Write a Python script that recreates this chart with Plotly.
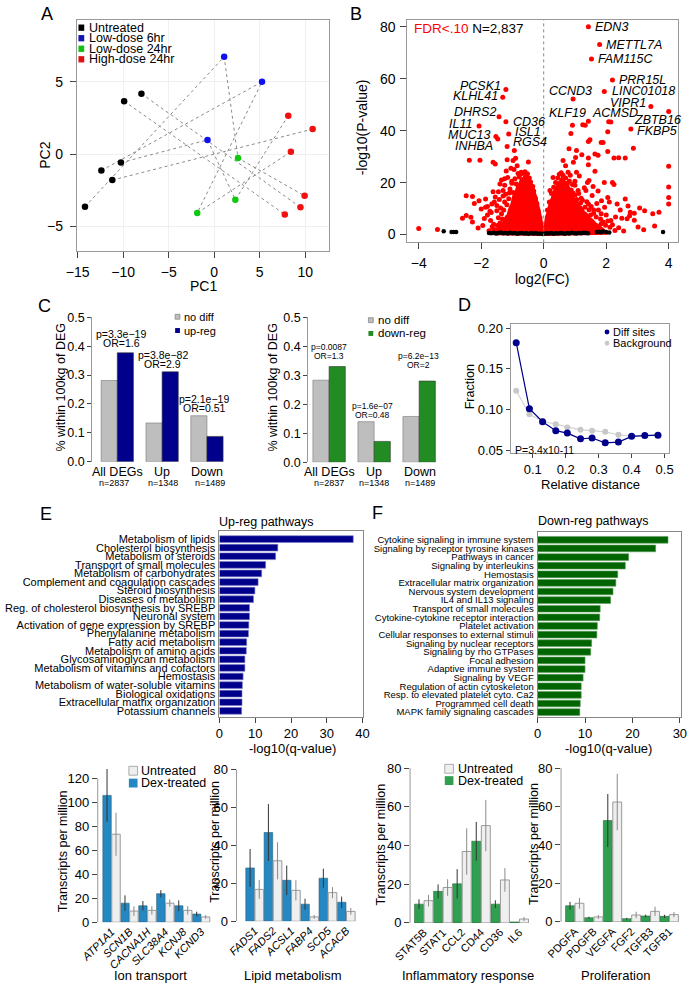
import plotly.graph_objects as go

W, H = 695, 990
FONT = "Liberation Sans, Arial, Helvetica, sans-serif"

def X(p): return p / W
def Y(p): return 1 - p / H
def dom_x(a, b): return [X(a), X(b)]
def dom_y(top, bottom): return [Y(bottom), Y(top)]

# ======================= DATA =======================
# A: PCA
pca_untreated_x = [-14.2, -12.4, -11.2, -10.25, -9.9, -8.0]
pca_untreated_y = [-3.64, -1.14, -1.80, -0.59, 3.66, 4.18]
pca_low6_x = [1.09, 5.25, -0.74]
pca_low6_y = [6.73, 5.0, 0.98]
pca_low24_x = [2.61, 2.32, -1.87]
pca_low24_y = [-0.27, -3.16, -4.07]
pca_high24_x = [8.13, 10.81, 8.42, 9.93, 9.47, 7.75]
pca_high24_y = [2.66, 1.73, 0.16, -2.89, -3.68, -4.18]
pca_groups = ["Untreated", "Low-dose 6hr", "Low-dose 24hr", "High-dose 24hr"]
# donor paths: (group index, sample index)
pca_paths = [
    [(0, 0), (1, 0), (2, 0), (3, 3)],
    [(0, 1), (1, 1), (2, 2), (3, 2)],
    [(0, 3), (1, 2), (2, 1), (3, 0)],
    [(0, 2), (3, 1)],
    [(0, 4), (3, 5)],
    [(0, 5), (3, 4)],
]

# B: volcano
sig_x = [-4.0, -3.4, -2.6, -2.48, -2.33, -2.28, -2.48, -2.28, -2.22, -2.07, -1.86, -1.86, -1.66, -1.5,
         -1.7, -1.95, -1.8, -1.6, -1.55, -1.45, -1.4, -1.35, -1.3, -1.25, -1.2, -1.15, -1.05, -0.95,
         -0.85, -0.98, -0.9, -1.17, -1.55, -1.62, -2.04, -2.38, -0.49, -1.25, -1.35, -1.45, -2.1, -1.3,
         -1.21, -1.31, -1.43, -1.21, -2.07, -1.12, -1.53, -1.47, -1.17, -0.94,
         -1.1, -1.02, -0.72, -0.55, -0.35, -0.22, -1.6, -1.72,
         -1.62, -1.58, -1.5, -1.42, -1.38, -1.32, -1.28, -1.22, -1.18, -1.12, -1.08, -1.02, -0.98,
         -0.92, -0.88, -0.82, -0.78, -0.72, -0.66, -0.6, -0.52, -0.46, -0.42, -0.38, -0.32, -0.27,
         -0.22, -0.18, -0.12, -1.65, -1.55, -1.75, -1.68, -1.8, -1.9, -2.0, -1.48, -1.4, -1.2, -1.25,
         0.81, 1.05, 1.02, 1.22, 1.43, 1.74, 1.84, 1.9, 1.43, 1.48, 1.33, 0.92, 0.87, 1.64, 2.05, 2.25,
         2.4, 2.61, 2.87, 2.05, 4.0, 4.0, 4.0, 4.0, 3.69, 3.49, 3.23, 3.07, 2.77, 2.67, 2.35, 2.61, 2.56,
         3.02, 2.25, 2.2, 1.94, 1.64, 1.43, 1.74, 2.05, 1.43, 1.84, 2.15, 1.84, 1.53, 1.14, 0.92, 0.78,
         0.7, 0.95, 0.62, 1.3, 1.55, 1.2, 1.95, 2.3, 2.5, 2.75, 1.7, 2.0, 1.25, 1.5, 1.1, 3.2, 3.55,
         2.9, 1.05, 1.4, 1.6, 1.0, 0.3, 0.2,
         0.12, 0.18, 0.25, 0.32, 0.38, 0.45, 0.5, 0.56, 0.62, 0.7, 0.76, 0.82, 0.88, 0.94, 1.0, 1.06,
         1.12, 1.18, 1.24, 1.32, 1.38, 1.45, 1.52, 1.6, 1.68, 1.75, 1.82, 1.9, 1.98, 2.05, 2.12, 2.2,
         2.28, 2.4, 1.35, 1.45, 1.58, 1.85, 2.1, 2.45, 2.7, 2.9, 1.0, 0.85, 1.62, 1.3,
         1.43, 1.79, 1.53, 2.2, 1.94, 3.43, 4.0, 2.79, 2.08, 2.15, 1.43, 0.94, 1.25]
sig_y = [2.3, 2.0, 6.3, 7.3, 6.7, 4.8, 14.9, 14.7, 12.0, 13.0, 13.7, 10.5, 11.8, 9.2,
         5.4, 3.5, 7.5, 4.0, 14.5, 16.5, 19.5, 21.0, 17.0, 12.5, 24.5, 22.0, 25.5, 25.0,
         26.5, 28.5, 29.4, 28.8, 27.2, 27.8, 28.6, 28.6, 27.9, 19.0, 8.0, 6.5, 2.5, 14.8,
         55.8, 52.8, 45.3, 43.4, 41.8, 38.7, 37.7, 36.8, 33.9, 32.4,
         16.0, 20.5, 23.5, 22.0, 18.5, 12.0, 2.0, 9.0,
         16.5, 12.5, 11.2, 13.5, 10.2, 6.0, 9.5, 15.5, 11.5, 13.8, 17.5, 19.8, 16.2,
         21.5, 19.5, 23.5, 22.2, 24.0, 23.6, 24.2, 23.4, 21.8, 20.2, 18.5, 16.8, 14.0,
         11.5, 9.0, 6.5, 3.0, 1.8, 1.5, 8.5, 10.8, 6.2, 9.8, 3.5, 4.5, 3.0, 21.5,
         33.0, 32.4, 29.7, 30.7, 29.5, 30.5, 35.4, 35.4, 35.8, 36.5, 42.1, 42.1, 38.9, 31.0, 32.0, 29.5,
         29.6, 29.5, 33.2, 39.6, 26.3, 18.3, 14.3, 11.8, 8.6, 8.0, 9.2, 10.2, 8.6, 6.1, 11.8, 13.7, 1.4,
         2.9, 19.3, 20.0, 20.0, 24.4, 26.9, 16.8, 14.3, 11.8, 8.0, 5.4, 4.2, 2.9, 22.5, 19.3, 24.0,
         26.5, 27.8, 28.5, 18.0, 15.0, 14.0, 10.5, 6.8, 6.3, 7.2, 12.0, 7.5, 5.0, 7.5, 17.0, 1.9, 3.3,
         5.5, 24.0, 20.0, 9.5, 20.5, 22.0, 17.0,
         9.5, 12.5, 15.8, 18.2, 20.0, 21.8, 23.2, 23.8, 22.8, 21.8, 19.8, 20.6, 17.2, 16.0, 15.2, 13.5,
         15.8, 12.2, 13.2, 10.5, 12.6, 9.6, 10.8, 8.2, 6.8, 9.5, 6.0, 4.8, 3.6, 5.2, 2.8, 3.8,
         1.6, 2.6, 17.0, 20.8, 18.5, 13.0, 12.5, 9.5, 11.0, 8.2, 19.0, 22.8, 2.0, 3.4,
         80.0, 73.1, 67.6, 59.5, 55.1, 49.3, 47.4, 40.6, 43.4, 43.3, 43.6, 52.2, 42.3]
# outline of the dense cloud of significant genes
core_left_x = [0.0, -0.05, -0.1, -0.15, -0.2, -0.25, -0.3, -0.36, -0.42, -0.48, -0.54, -0.6, -0.66,
               -0.72, -0.78, -0.84, -0.9, -0.96, -1.02, -1.08, -1.14, -1.2, -1.28, -1.36, -1.44,
               -1.52, -1.6, 0.0]
core_left_y = [0.0, 3.5, 6.0, 9.5, 11.5, 14.5, 16.0, 18.8, 19.6, 21.4, 21.0, 22.4, 21.6,
               21.0, 19.2, 18.4, 15.5, 14.8, 11.6, 10.2, 7.5, 6.8, 4.6, 4.0, 2.2,
               1.6, 0.3, 0.0]
core_right_x = [0.0, 0.04, 0.09, 0.15, 0.21, 0.27, 0.33, 0.4, 0.46, 0.52, 0.58, 0.64, 0.7, 0.77,
                0.84, 0.91, 0.98, 1.05, 1.12, 1.2, 1.28, 1.36, 1.45, 1.55, 1.65, 1.75, 1.85, 1.95,
                2.05, 0.0]
core_right_y = [0.0, 3.0, 6.8, 9.0, 12.4, 13.8, 16.5, 17.6, 19.8, 20.2, 21.6, 20.8, 19.6, 18.9,
                16.4, 15.6, 13.2, 12.6, 11.0, 10.4, 8.6, 8.0, 6.4, 5.6, 4.2, 3.4, 2.2, 1.4,
                0.5, 0.0]
ns_x = [-3.2, -2.95, -2.88, -2.8, -1.75, -1.68, -1.6, -1.52, -1.45, -1.38, -1.3, -1.22, -1.15, -1.08,
        -1.0, -0.92, -0.85, -0.78, -0.7, -0.62, -0.55, -0.48, -0.4, -0.33, -0.25, -0.18, -0.1, -0.04,
        0.03, 0.1, 0.17, 0.24, 0.31, 0.38, 0.46, 0.53, 0.6, 0.68, 0.75, 0.82, 0.9, 0.98, 1.05, 1.12,
        1.2, 1.28, 1.35, 1.42, 1.7, 1.78, 1.83, 1.9, 2.0, 2.1, 3.82]
ns_y = [1.3, 1.0, 1.0, 1.0, 0.6, 0.5, 0.7, 0.4, 0.6, 0.8, 0.5, 0.6, 0.4, 0.7,
        0.5, 0.6, 0.3, 0.5, 0.6, 0.4, 0.5, 0.3, 0.6, 0.4, 0.5, 0.3, 0.4, 0.2,
        0.3, 0.5, 0.4, 0.6, 0.3, 0.5, 0.4, 0.6, 0.5, 0.3, 0.6, 0.4, 0.7, 0.5, 0.4, 0.6,
        0.5, 0.7, 0.6, 0.5, 1.0, 1.1, 0.9, 1.2, 1.0, 0.8, 1.0]
volcano_genes = ["EDN3", "METTL7A", "FAM115C", "PRR15L", "LINC01018", "VIPR1", "ZBTB16", "FKBP5",
                 "ACMSD", "KLF19", "CCND3", "PCSK1", "KLHL41", "DHRS2", "CD36", "IL11", "ISL1",
                 "MUC13", "RGS4", "INHBA"]

# C: enrichment near DEGs
c_groups = ["All DEGs", "Up", "Down"]
c_n = ["n=2837", "n=1348", "n=1489"]
c_up_nodiff = [0.281, 0.134, 0.159]
c_up_reg = [0.377, 0.311, 0.0875]
c_up_stats = [("p=3.3e\u221219", "OR=1.6"), ("p=3.8e\u221282", "OR=2.9"), ("p=2.1e\u221219", "OR=0.51")]
c_dn_nodiff = [0.283, 0.140, 0.158]
c_dn_reg = [0.33, 0.072, 0.28]
c_dn_stats = [("p=0.0087", "OR=1.3"), ("p=1.6e\u221207", "OR=0.48"), ("p=6.2e\u221213", "OR=2")]

# D: relative distance
d_x = [0.05, 0.09, 0.13, 0.17, 0.205, 0.245, 0.28, 0.32, 0.36, 0.40, 0.44, 0.48]
d_diff = [0.182, 0.101, 0.085, 0.074, 0.071, 0.064, 0.065, 0.059, 0.060, 0.067, 0.068, 0.0685]
d_bg = [0.123, 0.094, 0.0855, 0.082, 0.078, 0.075, 0.074, 0.0726, 0.069, 0.0673, 0.068, 0.069]

# E: up-reg pathways
up_paths = ["Metabolism of lipids", "Cholesterol biosynthesis", "Metabolism of steroids",
            "Transport of small molecules", "Metabolism of carbohydrates",
            "Complement and coagulation cascades", "Steroid biosynthesis", "Diseases of metabolism",
            "Reg. of cholesterol biosynthesis by SREBP", "Neuronal system",
            "Activation of gene expression by SREBP", "Phenylalanine metabolism",
            "Fatty acid metabolism", "Metabolism of amino acids", "Glycosaminoglycan metabolism",
            "Metabolism of vitamins and cofactors", "Hemostasis",
            "Metabolism of water-soluble vitamins", "Biological oxidations",
            "Extracellular matrix organization", "Potassium channels"]
up_q = [37.4, 16.3, 15.7, 12.9, 11.8, 10.8, 9.9, 9.5, 8.4, 8.4, 8.2, 8.1, 7.6, 7.5, 7.1, 7.1,
        6.6, 6.4, 6.3, 6.3, 6.2]

# F: down-reg pathways
dn_paths = ["Cytokine signaling in immune system", "Signaling by receptor tyrosine kinases",
            "Pathways in cancer", "Signaling by interleukins", "Hemostasis",
            "Extracellular matrix organization", "Nervous system development",
            "IL4 and IL13 signaling", "Transport of small molecules",
            "Cytokine-cytokine receptor interaction", "Platelet activation",
            "Cellular responses to external stimuli", "Signaling by nuclear receptors",
            "Signaling by rho GTPases", "Focal adhesion", "Adaptive immune system",
            "Signaling by VEGF", "Regulation of actin cytoskeleton",
            "Resp. to elevated platelet cyto. Ca2", "Programmed cell death",
            "MAPK family signaling cascades"]
dn_q = [27.5, 24.9, 19.2, 18.5, 16.9, 16.5, 15.9, 15.4, 13.2, 13.1, 12.6, 12.5, 11.4, 11.2,
        10.0, 10.0, 9.6, 9.2, 9.2, 9.0, 8.9]

# G: transcripts per million (dex-treated, untreated) with error
ion_genes = ["ATP1A1", "SCN1B", "CACNA1H", "SLC38A4", "KCNJ8", "KCND3"]
ion_dex = [105.8, 15.9, 13.7, 23.8, 13.7, 6.8]
ion_dex_err = [22, 6.5, 4, 3, 4.5, 2]
ion_unt = [73.4, 9.3, 9.9, 15.9, 9.9, 4.4]
ion_unt_err = [18, 4, 3.5, 3, 3.5, 1.5]

lip_genes = ["FADS1", "FADS2", "ACSL1", "FABP4", "SCD5", "ACACB"]
lip_dex = [28.1, 46.8, 21.6, 9.0, 22.7, 10.0]
lip_dex_err = [10, 15, 7.8, 2.9, 5, 3]
lip_unt = [16.8, 31.9, 16.3, 2.3, 15.1, 5.2]
lip_unt_err = [5, 9.8, 5.3, 1, 2.9, 1.8]

inf_genes = ["STAT5B", "STAT1", "CCL2", "CD44", "CD36", "IL6"]
inf_dex = [9.7, 16.3, 20.2, 42.2, 9.7, 0.5]
inf_dex_err = [2.5, 3.6, 7.6, 10, 2, 0]
inf_unt = [11.5, 18.3, 36.9, 50.3, 22.2, 2.0]
inf_unt_err = [3, 4.3, 12, 13.3, 6.1, 1]

pro_genes = ["PDGFA", "PDGFB", "VEGFA", "FGF2", "TGFB3", "TGFB1"]
pro_dex = [8.4, 2.2, 52.7, 1.7, 3.1, 2.9]
pro_dex_err = [2, 0.5, 13.8, 0.4, 0.7, 0.8]
pro_unt = [9.7, 2.6, 62.3, 3.6, 5.5, 3.8]
pro_unt_err = [2.8, 1, 14.7, 1.7, 2.4, 1.4]

# ======================= FIGURE =======================
fig = go.Figure()
annotations = []
shapes = []


def ann(text, x, y, size=12, xanchor="center", yanchor="middle", color="black", angle=0, **kw):
    d = dict(text=text, x=X(x), y=Y(y), xref="paper", yref="paper", showarrow=False,
             font=dict(size=size, color=color, family=FONT), xanchor=xanchor, yanchor=yanchor,
             textangle=angle)
    d.update(kw)
    annotations.append(d)


def rect(x0, y0, x1, y1, fill, line="rgba(0,0,0,0)"):
    shapes.append(dict(type="rect", xref="paper", yref="paper", x0=X(x0), x1=X(x1), y0=Y(y1), y1=Y(y0),
                       fillcolor=fill, line=dict(color=line, width=0.8)))


def axis(domain, rng, anchor, **kw):
    d = dict(domain=domain, range=rng, anchor=anchor, showgrid=False, zeroline=False, ticks="outside",
             ticklen=4, tickcolor="#444", tickwidth=1,
             tickfont=dict(size=12, family=FONT, color="black"), showline=False, linecolor="#999",
             linewidth=1, fixedrange=True)
    d.update(kw)
    return d

layout_axes = {}

# ---------- A ----------
pca_xs = [pca_untreated_x, pca_low6_x, pca_low24_x, pca_high24_x]
pca_ys = [pca_untreated_y, pca_low6_y, pca_low24_y, pca_high24_y]
lx, ly = [], []
for path in pca_paths:
    for g, i in path:
        lx.append(pca_xs[g][i]); ly.append(pca_ys[g][i])
    lx.append(None); ly.append(None)
fig.add_trace(go.Scatter(x=lx, y=ly, mode="lines", line=dict(color="#8a8a8a", width=1, dash="dot"),
                         xaxis="x", yaxis="y", showlegend=False, hoverinfo="skip"))
pca_colors = ["#000000", "#1010F0", "#10C810", "#F01010"]
for g in range(4):
    fig.add_trace(go.Scatter(x=pca_xs[g], y=pca_ys[g], mode="markers", name=pca_groups[g],
                             marker=dict(color=pca_colors[g], size=6.5), xaxis="x", yaxis="y",
                             showlegend=False))
layout_axes["xaxis"] = axis(dom_x(61, 323), [-15.1, 12.65], "y", tickvals=[-15, -10, -5, 0, 5, 10],
                            ticktext=["\u221215", "\u221210", "\u22125", "0", "5", "10"],
                            showline=True, mirror=True, showgrid=True, gridcolor="#f0f0f0",
                            tickfont=dict(size=14, family=FONT), ticklen=6, ticklabelstandoff=2)
layout_axes["yaxis"] = axis(dom_y(13, 248), [-6.72, 9.29], "x", tickvals=[-5, 0, 5],
                            ticktext=["\u22125", "0", "5"], showline=True, mirror=True, showgrid=True,
                            gridcolor="#f0f0f0", tickfont=dict(size=14, family=FONT), ticklen=6,
                            ticklabelstandoff=4)
leg_cols = ["#000000", "#1414B4", "#10C010", "#E01010"]
for k, name in enumerate(pca_groups):
    yc = 21 + k * 10.7
    rect(62.7, yc - 3.2, 68.7, yc + 3.2, leg_cols[k])
    ann(name, 72, yc, size=12.5, xanchor="left")
ann("PC1", 192, 283, size=14)
ann("PC2", 28, 150, size=14, angle=-90)
ann("A", 30, 7, size=18)

# ---------- B ----------
fig.add_trace(go.Scatter(x=core_left_x, y=core_left_y, mode="lines", fill="toself", fillcolor="#FF0000",
                         line=dict(color="#FF0000", width=3), xaxis="x2", yaxis="y2", showlegend=False,
                         hoverinfo="skip"))
fig.add_trace(go.Scatter(x=core_right_x, y=core_right_y, mode="lines", fill="toself", fillcolor="#FF0000",
                         line=dict(color="#FF0000", width=3), xaxis="x2", yaxis="y2", showlegend=False,
                         hoverinfo="skip"))
fig.add_trace(go.Scatter(x=sig_x, y=sig_y, mode="markers", marker=dict(color="#FF0000", size=5),
                         xaxis="x2", yaxis="y2", showlegend=False))
fig.add_trace(go.Scatter(x=ns_x, y=ns_y, mode="markers", marker=dict(color="#000000", size=4.5),
                         xaxis="x2", yaxis="y2", showlegend=False))
layout_axes["xaxis2"] = axis(dom_x(404, 685), [-4.36, 4.31], "y2", tickvals=[-4, -2, 0, 2, 4],
                             ticktext=["\u22124", "\u22122", "0", "2", "4"], showline=True, mirror=True,
                             tickfont=dict(size=14, family=FONT), ticklen=6, ticklabelstandoff=2)
layout_axes["yaxis2"] = axis(dom_y(13, 239), [-3.0, 82.65], "x2", tickvals=[0, 20, 40, 60, 80],
                             showline=True, mirror=True, tickfont=dict(size=14, family=FONT), ticklen=6,
                             ticklabelstandoff=2)
shapes.append(dict(type="line", xref="x2", yref="y2", x0=0, x1=0, y0=-3.0, y1=82.65,
                   line=dict(color="#888", width=1, dash="dot")))
# gene label placement (x, y, anchor) in data units
vlab_pos = [(1.58, 80.0, "left"), (1.94, 73.1, "left"), (1.66, 67.6, "left"), (2.35, 59.5, "left"),
            (2.13, 55.1, "left"), (3.33, 50.7, "right"), (2.82, 44.0, "left"), (2.92, 39.8, "left"),
            (1.48, 46.9, "left"), (1.41, 46.6, "right"), (0.11, 55.4, "left"), (-1.30, 57.3, "right"),
            (-1.40, 53.2, "right"), (-1.47, 47.2, "right"), (-1.06, 43.4, "left"),
            (-2.22, 42.7, "right"), (-0.99, 39.6, "left"), (-1.66, 38.3, "right"),
            (-1.04, 35.8, "left"), (-1.55, 33.9, "right")]
for gname, (gx, gy, anc) in zip(volcano_genes, vlab_pos):
    annotations.append(dict(text="<i>" + gname + "</i>", x=gx, y=gy, xref="x2", yref="y2",
                            showarrow=False, xanchor=anc, yanchor="middle",
                            font=dict(size=12.5, family=FONT, color="black")))
ann('<span style="color:#FF0000">FDR&lt;.10</span> N=2,837', 409, 22, size=13.5, xanchor="left")
ann("-log10(P-value)", 357, 122, size=14, angle=-90)
ann("log2(FC)", 544, 276, size=14)
ann("B", 351, 7, size=18)

# ---------- C (left: up-reg) ----------
cx = [0, 1, 2]
fig.add_trace(go.Bar(x=cx, y=c_up_nodiff, offset=-0.36, width=0.36, marker=dict(color="#BEBEBE",
                     line=dict(color="#777", width=0.6)), xaxis="x3", yaxis="y3", showlegend=False))
fig.add_trace(go.Bar(x=cx, y=c_up_reg, offset=0, width=0.36, marker=dict(color="#00008B",
                     line=dict(color="#333", width=0.6)), xaxis="x3", yaxis="y3", showlegend=False))
layout_axes["xaxis3"] = axis(dom_x(77, 222), [-0.559, 2.559], "y3", showticklabels=False, ticks="")
layout_axes["yaxis3"] = axis(dom_y(315, 461.7), [0, 0.5], "x3", tickvals=[0, 0.1, 0.2, 0.3, 0.4, 0.5],
                             ticktext=["0.0", "0.1", "0.2", "0.3", "0.4", "0.5"], showline=True,
                             linecolor="#999", ticklen=4, tickfont=dict(size=12.5, family=FONT))
c_left_centers = [103, 149, 196]
for k in range(3):
    ann(c_groups[k], c_left_centers[k], 472, size=12.5)
    ann(c_n[k], [100, 150, 199][k], 483.5, size=9)
up_stat_pos = [(107, 332), (150, 353), (193, 398)]
for (p, o), (sx, sy) in zip(c_up_stats, up_stat_pos):
    ann(p, sx, sy, size=10.5)
    ann(o, sx, sy + 9.5, size=10.5)
rect(163, 312, 168, 317, "#BEBEBE", "#888")
ann("no diff", 170, 314.5, size=11, xanchor="left")
rect(163, 326, 168, 331, "#00008B")
ann("up-reg", 170, 328.5, size=11, xanchor="left")
ann("% within 100kg of DEG", 45, 386, size=12.5, angle=-90)
ann("C", 28, 304, size=18)

# ---------- C (right: down-reg) ----------
fig.add_trace(go.Bar(x=cx, y=c_dn_nodiff, offset=-0.36, width=0.36, marker=dict(color="#BEBEBE",
                     line=dict(color="#777", width=0.6)), xaxis="x4", yaxis="y4", showlegend=False))
fig.add_trace(go.Bar(x=cx, y=c_dn_reg, offset=0, width=0.36, marker=dict(color="#228B22",
                     line=dict(color="#333", width=0.6)), xaxis="x4", yaxis="y4", showlegend=False))
layout_axes["xaxis4"] = axis(dom_x(301, 446), [-0.465, 2.64], "y4", showticklabels=False, ticks="")
layout_axes["yaxis4"] = axis(dom_y(315, 462.3), [0, 0.5], "x4", tickvals=[0, 0.1, 0.2, 0.3, 0.4, 0.5],
                             ticktext=["0.0", "0.1", "0.2", "0.3", "0.4", "0.5"], showline=True,
                             linecolor="#999", ticklen=4, tickfont=dict(size=12.5, family=FONT))
c_right_centers = [323, 369, 417]
for k in range(3):
    ann(c_groups[k], c_right_centers[k], 472, size=12.5)
    ann(c_n[k], [323, 369, 417][k], 483.5, size=9)
dn_stat_pos = [(323, 345), (368, 405), (415, 354)]
for (p, o), (sx, sy) in zip(c_dn_stats, dn_stat_pos):
    ann(p, sx, sy, size=8.5)
    ann(o, sx, sy + 9.5, size=8.5)
rect(363.5, 315.5, 368.5, 320.5, "#BEBEBE", "#888")
ann("no diff", 371, 318, size=11.5, xanchor="left")
rect(363.5, 329, 368.5, 334, "#228B22")
ann("down-reg", 371, 331.5, size=11.5, xanchor="left")
ann("% within 100kg of DEG", 265, 386, size=12.5, angle=-90)

# ---------- D ----------
fig.add_trace(go.Scatter(x=d_x, y=d_bg, mode="lines+markers", line=dict(color="#D3D3D3", width=1.2),
                         marker=dict(color="#C8C8C8", size=6), xaxis="x5", yaxis="y5",
                         showlegend=False))
fig.add_trace(go.Scatter(x=d_x, y=d_diff, mode="lines+markers", line=dict(color="#00008B", width=1.2),
                         marker=dict(color="#00008B", size=7), xaxis="x5", yaxis="y5",
                         showlegend=False))
layout_axes["xaxis5"] = axis(dom_x(511, 675), [0.033, 0.5126], "y5", tickvals=[0.1, 0.2, 0.3, 0.4, 0.5],
                             showline=True, mirror=True, tickfont=dict(size=13, family=FONT))
layout_axes["yaxis5"] = axis(dom_y(322, 453), [0.0464, 0.2048], "x5", tickvals=[0.05, 0.1, 0.15, 0.2],
                             ticktext=["0.05", "0.10", "0.15", "0.20"], showline=True, mirror=True,
                             tickfont=dict(size=13, family=FONT))
shapes.append(dict(type="circle", xref="paper", yref="paper", x0=X(608.5), x1=X(613.5), y0=Y(332.5),
                   y1=Y(327.5), fillcolor="#00008B", line=dict(width=0)))
shapes.append(dict(type="circle", xref="paper", yref="paper", x0=X(608.5), x1=X(613.5), y0=Y(344),
                   y1=Y(339), fillcolor="#C8C8C8", line=dict(width=0)))
ann("Diff sites", 615, 330, size=11, xanchor="left")
ann("Background", 615, 341.5, size=11, xanchor="left")
ann("P=3.4x10-11", 513, 450, size=10.5, xanchor="left")
ann("Fraction", 469, 386, size=12.5, angle=-90)
ann("Relative distance", 594, 485, size=13)
ann("D", 463, 303, size=18)

# ---------- E ----------
fig.add_trace(go.Bar(y=list(range(len(up_q))), x=up_q, orientation="h", offset=-0.39, width=0.78,
                     marker=dict(color="#00008B", line=dict(color="#7878C8", width=0.6)),
                     xaxis="x6", yaxis="y6", showlegend=False))
layout_axes["xaxis6"] = axis(dom_x(209, 357.4), [0, 40], "y6", tickvals=[0, 10, 20, 30, 40],
                             showline=True, mirror=True, linecolor="#888",
                             tickfont=dict(size=13, family=FONT), ticklen=5)
layout_axes["yaxis6"] = axis(dom_y(532, 720.7), [20.69, -0.95], "x6", tickvals=list(range(len(up_paths))),
                             ticktext=up_paths, ticks="", showline=True, mirror=True, linecolor="#888",
                             tickfont=dict(size=11, family=FONT), ticklabelstandoff=1)
ann("Up-reg pathways", 258, 523, size=12.5)
ann("-log10(q-value)", 285, 753, size=13)
ann("E", 29, 515, size=18)

# ---------- F ----------
fig.add_trace(go.Bar(y=list(range(len(dn_q))), x=dn_q, orientation="h", offset=-0.39, width=0.78,
                     marker=dict(color="#006400", line=dict(color="#60A060", width=0.6)),
                     xaxis="x7", yaxis="y7", showlegend=False))
layout_axes["xaxis7"] = axis(dom_x(539, 687.3), [0, 30.15], "y7", tickvals=[0, 10, 20, 30],
                             showline=True, mirror=True, linecolor="#888",
                             tickfont=dict(size=13, family=FONT), ticklen=5)
layout_axes["yaxis7"] = axis(dom_y(532.7, 720.7), [20.54, -0.95], "x7",
                             tickvals=list(range(len(dn_paths))), ticktext=dn_paths, ticks="",
                             showline=True, mirror=True, linecolor="#888",
                             tickfont=dict(size=9.5, family=FONT), ticklabelstandoff=1)
ann("Down-reg pathways", 596, 522, size=12.5)
ann("-log10(q-value)", 613, 753, size=13)
ann("F", 373, 514, size=18)

# ---------- G: bottom bar charts ----------
def tpm_chart(n, genes, dex, dex_err, unt, unt_err, dex_color, edge_color, xdom, xrng, ydom, yrng,
              ytop, italic, title, title_x, ytitle_x, ytitle_y):
    xa, ya = "x%d" % n, "y%d" % n
    xd = [2 * i for i in range(len(genes))]
    xu = [2 * i + 1 for i in range(len(genes))]
    fig.add_trace(go.Bar(x=xd, y=dex, offset=-0.47, width=0.94,
                         marker=dict(color=dex_color, line=dict(color=edge_color, width=0.6)),
                         error_y=dict(type="data", array=dex_err, color="#333333", thickness=1, width=0),
                         xaxis=xa, yaxis=ya, showlegend=False))
    fig.add_trace(go.Bar(x=xu, y=unt, offset=-0.47, width=0.94,
                         marker=dict(color="#EFEFEF", line=dict(color="#9A9A9A", width=1)),
                         error_y=dict(type="data", array=unt_err, color="#8A8A8A", thickness=1, width=0),
                         xaxis=xa, yaxis=ya, showlegend=False))
    ticktext = [("<i>%s</i>" % g) if italic else g for g in genes]
    layout_axes["xaxis%d" % n] = axis(xdom, xrng, ya, tickvals=[2 * i + 0.5 for i in range(len(genes))],
                                      ticktext=ticktext, ticks="", tickangle=-45,
                                      tickfont=dict(size=11, family=FONT), ticklabelstandoff=0)
    layout_axes["yaxis%d" % n] = axis(ydom, yrng, xa, tickvals=list(range(0, ytop + 1, 20)),
                                      tickfont=dict(size=13, family=FONT), ticklen=5)
    shapes.append(dict(type="line", xref="%s domain" % xa, yref=ya, x0=0, x1=0, y0=0, y1=ytop,
                       line=dict(color="#999", width=1)))
    ann(title, title_x, 983, size=13)
    ann("Transcripts per million", ytitle_x, ytitle_y, size=12.5, angle=-90)

tpm_chart(8, ion_genes, ion_dex, ion_dex_err, ion_unt, ion_unt_err, "#2688C2", "#2a5f7a",
          dom_x(82.7, 200), [-1.04, 11.575], dom_y(771.1, 929.3), [0, 130], 120, True,
          "Ion transport", 137, 47, 857)
tpm_chart(9, lip_genes, lip_dex, lip_dex_err, lip_unt, lip_unt_err, "#2688C2", "#2a5f7a",
          dom_x(226.7, 352), [-1.479, 11.711], dom_y(770.45, 928.3), [0, 82], 80, True,
          "Lipid metabolism", 285, 204, 848)
tpm_chart(10, inf_genes, inf_dex, inf_dex_err, inf_unt, inf_unt_err, "#30A050", "#2a6a3a",
          dom_x(406.7, 532), [-0.934, 11.72], dom_y(768.9, 930), [0, 82], 80, False,
          "Inflammatory response", 467, 377, 850)
tpm_chart(11, pro_genes, pro_dex, pro_dex_err, pro_unt, pro_unt_err, "#30A050", "#2a6a3a",
          dom_x(563.3, 688), [-0.949, 11.775], dom_y(768.8, 929), [0, 82], 80, False,
          "Proliferation", 620, 535, 850)

# bottom legends
rect(115, 771, 124, 780, "#EFEFEF", "#999")
ann("Untreated", 126, 775.5, size=12.5, xanchor="left")
rect(115, 783.5, 124, 792.5, "#2688C2")
ann("Dex-treated", 126, 788, size=12.5, xanchor="left")
rect(442.7, 769, 451.7, 778, "#EFEFEF", "#999")
ann("Untreated", 454, 773.5, size=12.5, xanchor="left")
rect(442.7, 781, 451.7, 790, "#30A050")
ann("Dex-treated", 454, 786, size=12.5, xanchor="left")

fig.update_layout(
    width=W, height=H, margin=dict(l=0, r=0, t=0, b=0), autosize=False,
    paper_bgcolor="white", plot_bgcolor="white", barmode="overlay",
    font=dict(family=FONT, color="black"), showlegend=False,
    annotations=annotations, shapes=shapes, **layout_axes)

fig.write_html("out.html", config={"displayModeBar": False},
               post_script="document.body.style.margin='0';")
